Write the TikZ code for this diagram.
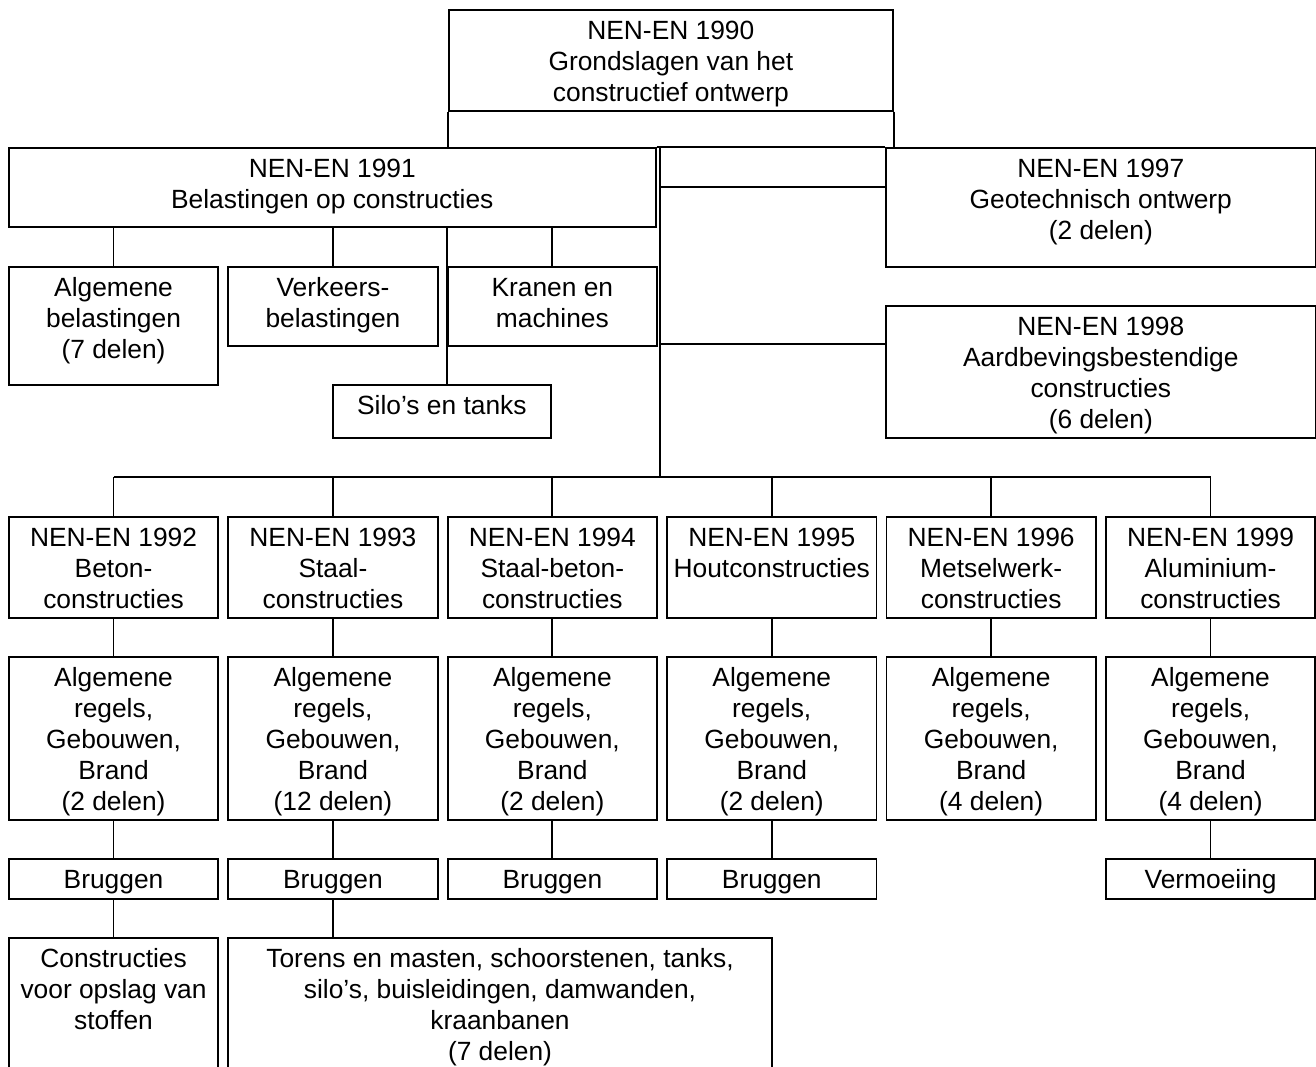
\documentclass[tikz,border=0pt]{standalone}
\usepackage{fontspec}
\setmainfont{Liberation Sans}
\usetikzlibrary{calc}

\begin{document}
\begin{tikzpicture}[x=0.02cm,y=-0.02cm,
box/.style={draw,line width=1pt,rectangle,anchor=north west,inner xsep=0pt,inner ysep=0pt,align=center,font=\fontsize{15}{17.64}\selectfont},
col/.style={box,minimum width=4.188cm},
ht/.style 2 args={text height=#1,text depth=#2},
lnk/.style={line width=1pt}
]
\clip (0,0) rectangle (1316,1066);
% top levels
\node[box,minimum width=8.88cm,ht={1.84cm}{0.18cm}] (n1990) at (448,9) {NEN-EN 1990\\Grondslagen van het\\constructief ontwerp};
\node[box,minimum width=12.94cm,ht={1.22cm}{0.36cm}] (n1991) at (8,147) {NEN-EN 1991\\Belastingen op constructies};
\node[box,minimum width=8.6cm,ht={1.84cm}{0.54cm}] (n1997) at (885,147) {NEN-EN 1997\\Geotechnisch ontwerp\\(2 delen)};
\node[box,minimum width=8.6cm,ht={2.46cm}{0.18cm}] (n1998) at (885,305) {NEN-EN 1998\\Aardbevingsbestendige\\constructies\\(6 delen)};
% parts of 1991
\node[col,ht={1.84cm}{0.52cm}] (alg) at (8,266) {Algemene\\belastingen\\(7 delen)};
\node[col,ht={1.22cm}{0.36cm}] (verk) at (227.4,266) {Verkeers-\\belastingen};
\node[col,ht={1.22cm}{0.36cm}] (kran) at (446.8,266) {Kranen en\\machines};
\node[box,minimum width=4.36cm,ht={0.6cm}{0.46cm}] (silo) at (332,384) {Silo’s en tanks};
% materials
\node[col,ht={1.84cm}{0.18cm}] (n1992) at (8,516) {NEN-EN 1992\\Beton-\\constructies};
\node[col,ht={1.84cm}{0.18cm}] (n1993) at (227.4,516) {NEN-EN 1993\\Staal-\\constructies};
\node[col,ht={1.84cm}{0.18cm}] (n1994) at (446.8,516) {NEN-EN 1994\\Staal-beton-\\constructies};
\node[col,ht={1.22cm}{0.8cm}] (n1995) at (666.2,516) {NEN-EN 1995\\Houtconstructies};
\node[col,ht={1.84cm}{0.18cm}] (n1996) at (885.6,516) {NEN-EN 1996\\Metselwerk-\\constructies};
\node[col,ht={1.84cm}{0.18cm}] (n1999) at (1105,516) {NEN-EN 1999\\Aluminium-\\constructies};
% general rules
\node[col,ht={3.08cm}{0.18cm}] (a1992) at (8,656) {Algemene\\regels,\\Gebouwen,\\Brand\\(2 delen)};
\node[col,ht={3.08cm}{0.18cm}] (a1993) at (227.4,656) {Algemene\\regels,\\Gebouwen,\\Brand\\(12 delen)};
\node[col,ht={3.08cm}{0.18cm}] (a1994) at (446.8,656) {Algemene\\regels,\\Gebouwen,\\Brand\\(2 delen)};
\node[col,ht={3.08cm}{0.18cm}] (a1995) at (666.2,656) {Algemene\\regels,\\Gebouwen,\\Brand\\(2 delen)};
\node[col,ht={3.08cm}{0.18cm}] (a1996) at (885.6,656) {Algemene\\regels,\\Gebouwen,\\Brand\\(4 delen)};
\node[col,ht={3.08cm}{0.18cm}] (a1999) at (1105,656) {Algemene\\regels,\\Gebouwen,\\Brand\\(4 delen)};
% bridges
\node[col,ht={0.6cm}{0.2cm}] (b1992) at (8,858) {Bruggen};
\node[col,ht={0.6cm}{0.2cm}] (b1993) at (227.4,858) {Bruggen};
\node[col,ht={0.6cm}{0.2cm}] (b1994) at (446.8,858) {Bruggen};
\node[col,ht={0.6cm}{0.2cm}] (b1995) at (666.2,858) {Bruggen};
\node[col,ht={0.6cm}{0.2cm}] (b1999) at (1105,858) {Vermoeiing};
% last row
\node[col,ht={1.84cm}{2.16cm}] (opsl) at (8,937) {Constructies\\voor opslag van\\stoffen};
\node[box,minimum width=10.872cm,ht={2.46cm}{1.54cm}] (torens) at (227.4,937) {Torens en masten, schoorstenen, tanks,\\silo’s, buisleidingen, damwanden,\\kraanbanen\\(7 delen)};

\coordinate (trk) at (660,147);
\coordinate (bus) at (660,477);
\draw[lnk] (n1990.south west) -- (n1990.south west |- n1991.north);
\draw[lnk] (n1990.south east) -- (n1990.south east |- n1997.north);
\draw[lnk] (n1991.north east) -- (n1997.north west);
\draw[lnk] (trk) -- (bus);
\draw[lnk] ($(n1997.north west)+(0,40)$) -| (trk);
\draw[lnk] ($(n1998.north west)+(0,39)$) -| (trk);
\draw[lnk] (alg.north) -- (alg.north |- n1991.south);
\draw[lnk] (verk.north) -- (verk.north |- n1991.south);
\draw[lnk] (kran.north) -- (kran.north |- n1991.south);
\draw[lnk] (silo.north -| kran.west) -- (kran.west |- n1991.south);
\draw[lnk] (n1992.north |- bus) -- (n1999.north |- bus);
\draw[lnk] (n1992.north) -- (n1992.north |- bus);
\draw[lnk] (n1993.north) -- (n1993.north |- bus);
\draw[lnk] (n1994.north) -- (n1994.north |- bus);
\draw[lnk] (n1995.north) -- (n1995.north |- bus);
\draw[lnk] (n1996.north) -- (n1996.north |- bus);
\draw[lnk] (n1999.north) -- (n1999.north |- bus);
\draw[lnk] (n1992) -- (a1992);
\draw[lnk] (n1993) -- (a1993);
\draw[lnk] (n1994) -- (a1994);
\draw[lnk] (n1995) -- (a1995);
\draw[lnk] (n1996) -- (a1996);
\draw[lnk] (n1999) -- (a1999);
\draw[lnk] (a1992) -- (b1992);
\draw[lnk] (a1993) -- (b1993);
\draw[lnk] (a1994) -- (b1994);
\draw[lnk] (a1995) -- (b1995);
\draw[lnk] (a1999) -- (b1999);
\draw[lnk] (b1992) -- (opsl);
\draw[lnk] (b1993) -- (b1993 |- torens.north);
\end{tikzpicture}
\end{document}
